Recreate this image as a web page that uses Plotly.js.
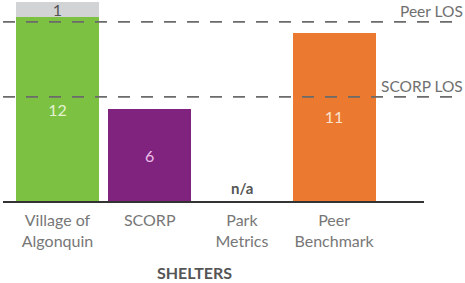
<!DOCTYPE html>
<html>
<head>
<meta charset="utf-8">
<script src="https://cdn.plot.ly/plotly-3.0.1.min.js"></script>
<style>html,body{margin:0;padding:0;background:#fff;}#chart{width:465px;height:283px;}</style>
</head>
<body>
<div id="chart"></div>
<script>
// ---- data ----
const categories = ["Village of<br>Algonquin", "SCORP", "Park<br>Metrics", "Peer<br>Benchmark"];
const existingValues = [12, 6, null, 11];
const additionalValues = [1, null, null, null];
const barColors = ["#7cc142", "#80237f", "#ffffff", "#eb7a30"];
const barTextColors = ["#e3f3d2", "#ecbfe9", "#ffffff", "#fbe2cf"];
const naLabel = "n/a";
const naCategory = categories[2];
const peerLOS = 11.7;
const scorpLOS = 6.8;
const losLabels = ["Peer LOS", "SCORP LOS"];
const chartTitle = "SHELTERS";

const FONT = "Lato, 'Open Sans', sans-serif";

const traces = [
  {
    type: "bar",
    x: categories,
    y: existingValues,
    marker: {color: barColors},
    width: 0.9,
    text: existingValues.map(v => v == null ? "" : String(v)),
    textposition: "inside",
    insidetextanchor: "middle",
    textangle: 0,
    constraintext: "none",
    textfont: {family: FONT, size: 16, color: barTextColors},
    hoverinfo: "skip",
    cliponaxis: false
  },
  {
    type: "bar",
    x: categories,
    y: additionalValues,
    marker: {color: "#d1d3d4"},
    width: 0.9,
    text: additionalValues.map(v => v == null ? "" : String(v)),
    textposition: "inside",
    insidetextanchor: "middle",
    textangle: 0,
    constraintext: "none",
    textfont: {family: FONT, size: 16, color: "#555555"},
    hoverinfo: "skip",
    cliponaxis: false
  }
];

const dashLine = {type: "line", xref: "paper", yref: "y", x0: 0, x1: 1.092,
  line: {color: "#6b6b6b", width: 1.8, dash: "12px,11px"}};

const layout = {
  width: 465, height: 283,
  margin: {l: 3, r: 41, t: 2, b: 82, pad: 0},
  paper_bgcolor: "#ffffff", plot_bgcolor: "#ffffff",
  barmode: "stack",
  showlegend: false,
  font: {family: FONT},
  xaxis: {
    type: "category",
    range: [-0.591, 3.975],
    showline: true, linecolor: "#333333", linewidth: 2,
    showgrid: false, zeroline: false, ticks: "",
    ticklabelstandoff: 4,
    tickfont: {family: FONT, size: 16, color: "#777777"},
    fixedrange: true
  },
  yaxis: {
    range: [0, 13], visible: false, showgrid: false, zeroline: false, fixedrange: true
  },
  shapes: [
    Object.assign({}, dashLine, {y0: peerLOS, y1: peerLOS}),
    Object.assign({}, dashLine, {y0: scorpLOS, y1: scorpLOS})
  ],
  annotations: [
    {xref: "paper", yref: "y", x: 1.097, y: peerLOS, xanchor: "right", yanchor: "bottom",
     yshift: 0, text: losLabels[0], showarrow: false,
     font: {family: FONT, size: 15.5, color: "#707070"}},
    {xref: "paper", yref: "y", x: 1.097, y: scorpLOS, xanchor: "right", yanchor: "bottom",
     yshift: 0, text: losLabels[1], showarrow: false,
     font: {family: FONT, size: 15.5, color: "#707070"}},
    {xref: "x", yref: "y", x: naCategory, y: 0, yanchor: "bottom", yshift: 2,
     text: "<b>" + naLabel + "</b>", showarrow: false,
     font: {family: FONT, size: 15, color: "#555555"}},
    {xref: "paper", yref: "paper", x: 0.4537, y: -0.357, xanchor: "center", yanchor: "middle",
     text: "<b>" + chartTitle + "</b>", showarrow: false,
     font: {family: FONT, size: 16, color: "#555555"}}
  ]
};

Plotly.newPlot("chart", traces, layout, {staticPlot: true, displayModeBar: false});
</script>
</body>
</html>
